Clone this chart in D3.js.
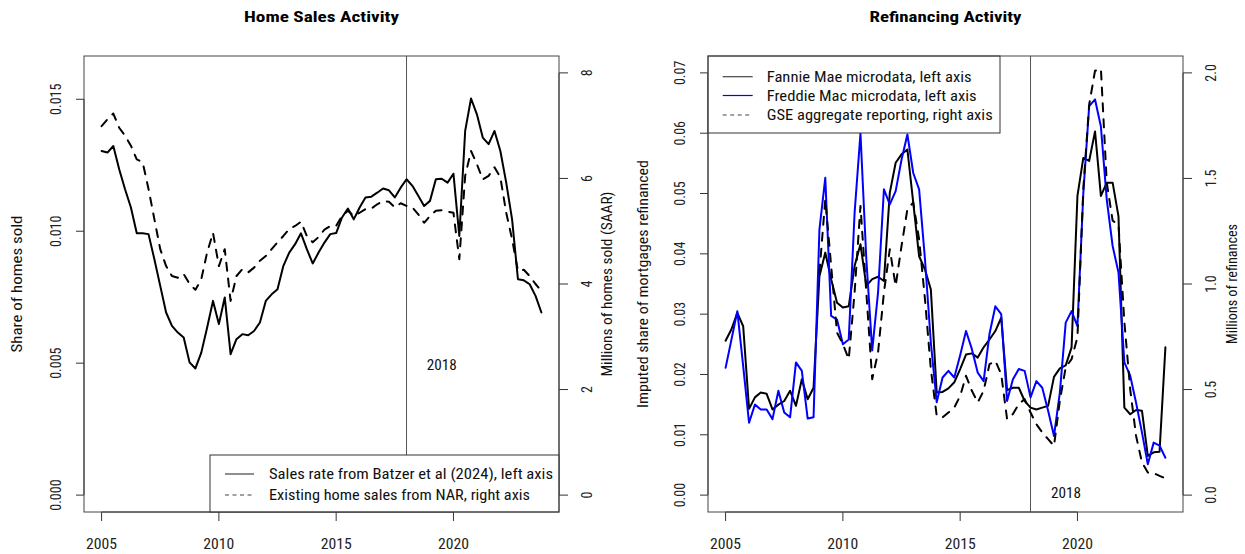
<!DOCTYPE html>
<html>
<head>
<meta charset="utf-8">
<script src="https://cdn.jsdelivr.net/npm/d3@7"></script>
<style>
  body { margin: 0; background: #fff; }
  svg { display: block; }
</style>
</head>
<body>
<svg id="chart" width="1245" height="554"></svg>
<script>
// Quarterly observations, 2005Q1 to 2023Q4 (decimal years)
const quarters = [
  2005.00, 2005.25, 2005.50, 2005.75, 2006.00, 2006.25, 2006.50, 2006.75,
  2007.00, 2007.25, 2007.50, 2007.75, 2008.00, 2008.25, 2008.50, 2008.75,
  2009.00, 2009.25, 2009.50, 2009.75, 2010.00, 2010.25, 2010.50, 2010.75,
  2011.00, 2011.25, 2011.50, 2011.75, 2012.00, 2012.25, 2012.50, 2012.75,
  2013.00, 2013.25, 2013.50, 2013.75, 2014.00, 2014.25, 2014.50, 2014.75,
  2015.00, 2015.25, 2015.50, 2015.75, 2016.00, 2016.25, 2016.50, 2016.75,
  2017.00, 2017.25, 2017.50, 2017.75, 2018.00, 2018.25, 2018.50, 2018.75,
  2019.00, 2019.25, 2019.50, 2019.75, 2020.00, 2020.25, 2020.50, 2020.75,
  2021.00, 2021.25, 2021.50, 2021.75, 2022.00, 2022.25, 2022.50, 2022.75,
  2023.00, 2023.25, 2023.50, 2023.75
];

// Home sales: share of homes sold (left axis)
const salesRate = [
  0.01304, 0.01298, 0.01323, 0.01235, 0.01159, 0.01090, 0.00992, 0.00992,
  0.00989, 0.00894, 0.00793, 0.00692, 0.00641, 0.00616, 0.00597, 0.00503,
  0.00480, 0.00540, 0.00635, 0.00736, 0.00648, 0.00749, 0.00534, 0.00591,
  0.00610, 0.00606, 0.00622, 0.00654, 0.00736, 0.00761, 0.00780, 0.00869,
  0.00919, 0.00951, 0.00992, 0.00932, 0.00878, 0.00919, 0.00957, 0.00989,
  0.00993, 0.01052, 0.01086, 0.01045, 0.01090, 0.01128, 0.01131, 0.01146,
  0.01162, 0.01155, 0.01128, 0.01165, 0.01197, 0.01172, 0.01134, 0.01096,
  0.01115, 0.01197, 0.01199, 0.01184, 0.01218, 0.00982, 0.01380, 0.01503,
  0.01443, 0.01355, 0.01330, 0.01380, 0.01304, 0.01184, 0.01045, 0.00818,
  0.00814, 0.00799, 0.00755, 0.00692
];

// Existing home sales from NAR, millions SAAR (right axis)
const narSales = [
  6.99, 7.12, 7.23, 6.96, 6.81, 6.62, 6.36, 6.31,
  5.80, 5.23, 4.66, 4.34, 4.15, 4.12, 4.19, 4.00,
  3.89, 4.09, 4.60, 4.97, 4.34, 4.66, 3.68, 4.15,
  4.28, 4.22, 4.31, 4.44, 4.53, 4.66, 4.79, 4.91,
  5.04, 5.10, 5.18, 4.91, 4.79, 4.89, 5.03, 5.10,
  5.10, 5.29, 5.39, 5.29, 5.35, 5.42, 5.43, 5.51,
  5.57, 5.56, 5.45, 5.53, 5.48, 5.45, 5.32, 5.16,
  5.29, 5.39, 5.40, 5.37, 5.35, 4.47, 6.05, 6.52,
  6.27, 5.98, 6.05, 6.21, 6.02, 5.35, 4.85, 4.25,
  4.27, 4.15, 4.00, 3.87
];

// Refinancing: imputed share of mortgages refinanced (left axis)
const fannieRefi = [
  0.0256, 0.0275, 0.0302, 0.0280, 0.0143, 0.0162, 0.0170, 0.0168,
  0.0142, 0.0150, 0.0156, 0.0173, 0.0148, 0.0192, 0.0159, 0.0178,
  0.0363, 0.0402, 0.0358, 0.0319, 0.0311, 0.0313, 0.0380, 0.0416,
  0.0347, 0.0358, 0.0362, 0.0355, 0.0501, 0.0551, 0.0565, 0.0573,
  0.0485, 0.0396, 0.0374, 0.0341, 0.0170, 0.0171, 0.0177, 0.0187,
  0.0209, 0.0233, 0.0235, 0.0228, 0.0245, 0.0258, 0.0272, 0.0294,
  0.0174, 0.0178, 0.0178, 0.0156, 0.0145, 0.0142, 0.0145, 0.0148,
  0.0196, 0.0210, 0.0215, 0.0245, 0.0496, 0.0559, 0.0554, 0.0603,
  0.0496, 0.0518, 0.0518, 0.0462, 0.0145, 0.0134, 0.0141, 0.0140,
  0.0065, 0.0071, 0.0072, 0.0245
];

const freddieRefi = [
  0.0211, 0.0258, 0.0305, 0.0214, 0.0120, 0.0150, 0.0142, 0.0142,
  0.0126, 0.0173, 0.0137, 0.0129, 0.0220, 0.0206, 0.0127, 0.0129,
  0.0440, 0.0526, 0.0297, 0.0291, 0.0250, 0.0258, 0.0468, 0.0600,
  0.0391, 0.0240, 0.0336, 0.0507, 0.0482, 0.0504, 0.0556, 0.0598,
  0.0534, 0.0507, 0.0391, 0.0253, 0.0154, 0.0195, 0.0206, 0.0195,
  0.0232, 0.0272, 0.0242, 0.0203, 0.0189, 0.0267, 0.0313, 0.0300,
  0.0156, 0.0192, 0.0209, 0.0206, 0.0162, 0.0189, 0.0178, 0.0140,
  0.0098, 0.0170, 0.0286, 0.0305, 0.0280, 0.0500, 0.0645, 0.0656,
  0.0611, 0.0490, 0.0413, 0.0369, 0.0220, 0.0198, 0.0153, 0.0104,
  0.0051, 0.0087, 0.0082, 0.0062
];

// GSE aggregate reporting, millions of refinances (right axis); starts 2009Q1
const gseRefi = [
  null, null, null, null, null, null, null, null,
  null, null, null, null, null, null, null, null,
  1.054, 1.401, 1.086, 0.770, 0.715, 0.644, 0.960, 1.370,
  0.960, 0.549, 0.676, 0.960, 1.165, 0.991, 1.180, 1.354,
  1.386, 1.212, 0.928, 0.597, 0.376, 0.368, 0.391, 0.415,
  0.470, 0.565, 0.494, 0.439, 0.494, 0.620, 0.636, 0.573,
  0.360, 0.384, 0.431, 0.455, 0.391, 0.336, 0.297, 0.265,
  0.233, 0.447, 0.605, 0.644, 0.747, 1.450, 1.850, 2.010,
  2.020, 1.480, 1.300, 1.280, 0.820, 0.500, 0.280, 0.155,
  0.107, 0.104, 0.091, 0.079
];

// Axis ticks and labels
const yearTicks = [2005, 2010, 2015, 2020];
const salesTicks = [0, 0.005, 0.010, 0.015];
const salesTickLabels = ["0.000", "0.005", "0.010", "0.015"];
const narTicks = [0, 2, 4, 6, 8];
const narTickLabels = ["0", "2", "4", "6", "8"];
const refiTicks = [0, 0.01, 0.02, 0.03, 0.04, 0.05, 0.06, 0.07];
const refiTickLabels = ["0.00", "0.01", "0.02", "0.03", "0.04", "0.05", "0.06", "0.07"];
const gseTicks = [0, 0.5, 1.0, 1.5, 2.0];
const gseTickLabels = ["0.0", "0.5", "1.0", "1.5", "2.0"];
const markerYear = 2018;

// Axis limits (R-style 4% padding applied below)
const xLimits = [2005, 2023.75];
const salesLimits = [0, 0.016];
const narLimits = [0, 8];
const refiLimits = [0, 0.07];
const gseLimits = [0, 2];

const pad = ([a, b]) => { const d = (b - a) * 0.04; return [a - d, b + d]; };

const FONT = "'Roboto Condensed','Liberation Sans Narrow',Roboto,sans-serif";
const svg = d3.select("#chart");

function drawPanel(cfg) {
  const { left, right, top, bottom } = cfg;
  const g = svg.append("g");
  const x = d3.scaleLinear().domain(pad(xLimits)).range([left, right]);
  const yL = d3.scaleLinear().domain(pad(cfg.leftLimits)).range([bottom, top]);
  const yR = d3.scaleLinear().domain(pad(cfg.rightLimits)).range([bottom, top]);

  // title
  g.append("text")
    .attr("x", (left + right) / 2).attr("y", 22)
    .attr("text-anchor", "middle")
    .attr("font-family", FONT).attr("font-weight", "bold").attr("font-size", 15)
    .attr("textLength", cfg.titleWidth).attr("lengthAdjust", "spacingAndGlyphs")
    .text(cfg.title);

  // bottom axis
  const xa = g.append("g");
  xa.append("line")
    .attr("x1", x(yearTicks[0])).attr("x2", x(yearTicks[yearTicks.length - 1]))
    .attr("y1", bottom).attr("y2", bottom).attr("stroke", "#333");
  yearTicks.forEach(t => {
    xa.append("line").attr("x1", x(t)).attr("x2", x(t))
      .attr("y1", bottom).attr("y2", bottom + 9).attr("stroke", "#333");
    xa.append("text").attr("x", x(t)).attr("y", 549)
      .attr("text-anchor", "middle").attr("font-family", FONT).attr("font-size", 15)
      .attr("textLength", 31).attr("lengthAdjust", "spacingAndGlyphs")
      .attr("fill", "#222").text(t);
  });

  // left axis
  const la = g.append("g");
  la.append("line").attr("x1", left).attr("x2", left)
    .attr("y1", yL(cfg.leftTicks[0])).attr("y2", yL(cfg.leftTicks[cfg.leftTicks.length - 1]))
    .attr("stroke", "#333");
  cfg.leftTicks.forEach((t, i) => {
    la.append("line").attr("x1", left - 8).attr("x2", left)
      .attr("y1", yL(t)).attr("y2", yL(t)).attr("stroke", "#333");
    la.append("text")
      .attr("transform", `translate(${left - 28},${yL(t)}) rotate(-90)`)
      .attr("text-anchor", "middle").attr("dy", "0.36em")
      .attr("font-family", FONT).attr("font-size", 14).attr("fill", "#222")
      .text(cfg.leftTickLabels[i]);
  });

  // right axis
  const ra = g.append("g");
  ra.append("line").attr("x1", right).attr("x2", right)
    .attr("y1", yR(cfg.rightTicks[0])).attr("y2", yR(cfg.rightTicks[cfg.rightTicks.length - 1]))
    .attr("stroke", "#333");
  cfg.rightTicks.forEach((t, i) => {
    ra.append("line").attr("x1", right).attr("x2", right + 9)
      .attr("y1", yR(t)).attr("y2", yR(t)).attr("stroke", "#333");
    ra.append("text")
      .attr("transform", `translate(${right + 28},${yR(t)}) rotate(-90)`)
      .attr("text-anchor", "middle").attr("dy", "0.36em")
      .attr("font-family", FONT).attr("font-size", 14).attr("fill", "#222")
      .text(cfg.rightTickLabels[i]);
  });

  // axis titles
  [[cfg.leftLabelX, cfg.leftLabel, cfg.leftLabelWidth],
   [cfg.rightLabelX, cfg.rightLabel, cfg.rightLabelWidth]].forEach(([lx, txt, w]) => {
    g.append("text")
      .attr("transform", `translate(${lx},${(top + bottom) / 2}) rotate(-90)`)
      .attr("text-anchor", "middle").attr("dy", "0.36em")
      .attr("font-family", FONT).attr("font-size", 14).attr("fill", "#111")
      .attr("textLength", w).attr("lengthAdjust", "spacingAndGlyphs")
      .text(txt);
  });

  // clip for the plotting region
  const clipId = "clip-" + cfg.id;
  svg.append("clipPath").attr("id", clipId)
    .append("rect").attr("x", left).attr("y", top)
    .attr("width", right - left).attr("height", bottom - top);
  const plot = g.append("g").attr("clip-path", `url(#${clipId})`);

  // vertical marker line at 2018
  plot.append("line")
    .attr("x1", x(markerYear)).attr("x2", x(markerYear))
    .attr("y1", top).attr("y2", bottom)
    .attr("stroke", "#555").attr("stroke-width", 1);
  g.append("text")
    .attr("x", cfg.markerLabel[0]).attr("y", cfg.markerLabel[1])
    .attr("text-anchor", "middle").attr("dy", "0.36em")
    .attr("font-family", FONT).attr("font-size", 14)
    .attr("textLength", 30).attr("lengthAdjust", "spacingAndGlyphs")
    .attr("fill", "#111").text(markerYear);

  // series
  cfg.series.forEach(s => {
    const y = s.axis === "left" ? yL : yR;
    const line = d3.line()
      .defined((d, i) => s.values[i] != null)
      .x((d, i) => x(quarters[i]))
      .y((d, i) => y(s.values[i]));
    plot.append("path")
      .datum(s.values)
      .attr("d", line)
      .attr("fill", "none")
      .attr("stroke", s.color)
      .attr("stroke-width", 2)
      .attr("stroke-linejoin", "round")
      .attr("stroke-linecap", "round")
      .attr("stroke-dasharray", s.dashed ? "8,8" : null);
  });

  // legend
  const L = cfg.legend;
  const lg = g.append("g");
  lg.append("rect")
    .attr("x", L.x0).attr("y", L.y0)
    .attr("width", L.x1 - L.x0).attr("height", L.y1 - L.y0)
    .attr("fill", "#fff").attr("stroke", "#333").attr("stroke-width", 1);
  cfg.series.forEach((s, i) => {
    const ly = L.rows[i];
    lg.append("line")
      .attr("x1", L.lineX[0]).attr("x2", L.lineX[1])
      .attr("y1", ly).attr("y2", ly)
      .attr("stroke", s.dashed ? "#444" : (s.color === "#000" ? "#444" : s.color))
      .attr("stroke-width", 1.2)
      .attr("stroke-dasharray", s.dashed ? "4,3.5" : null);
    lg.append("text")
      .attr("x", L.textX).attr("y", ly).attr("dy", "0.36em")
      .attr("font-family", FONT).attr("font-size", 15).attr("fill", "#111")
      .attr("textLength", s.labelWidth).attr("lengthAdjust", "spacingAndGlyphs")
      .text(s.label);
  });

  // plot box
  g.append("rect")
    .attr("x", left).attr("y", top)
    .attr("width", right - left).attr("height", bottom - top)
    .attr("fill", "none").attr("stroke", "#444").attr("stroke-width", 1);
}

drawPanel({
  id: "sales",
  left: 84, right: 559, top: 56, bottom: 512,
  title: "Home Sales Activity", titleWidth: 155,
  leftLimits: salesLimits, rightLimits: narLimits,
  leftTicks: salesTicks, leftTickLabels: salesTickLabels,
  rightTicks: narTicks, rightTickLabels: narTickLabels,
  leftLabel: "Share of homes sold", leftLabelX: 17, leftLabelWidth: 137,
  rightLabel: "Millions of homes sold (SAAR)", rightLabelX: 607, rightLabelWidth: 185,
  markerLabel: [441.7, 365],
  series: [
    { values: salesRate, axis: "left", color: "#000", dashed: false,
      label: "Sales rate from Batzer et al (2024), left axis", labelWidth: 284 },
    { values: narSales, axis: "right", color: "#000", dashed: true,
      label: "Existing home sales from NAR, right axis", labelWidth: 261 }
  ],
  legend: { x0: 210, x1: 559, y0: 455, y1: 512, rows: [474, 495],
            lineX: [225, 254], textX: 269 }
});

drawPanel({
  id: "refi",
  left: 708, right: 1183, top: 56, bottom: 512,
  title: "Refinancing Activity", titleWidth: 152,
  leftLimits: refiLimits, rightLimits: gseLimits,
  leftTicks: refiTicks, leftTickLabels: refiTickLabels,
  rightTicks: gseTicks, rightTickLabels: gseTickLabels,
  leftLabel: "Imputed share of mortgages refinanced", leftLabelX: 643, leftLabelWidth: 248,
  rightLabel: "Millions of refinances", rightLabelX: 1232, rightLabelWidth: 120,
  markerLabel: [1066, 493],
  series: [
    { values: fannieRefi, axis: "left", color: "#000", dashed: false,
      label: "Fannie Mae microdata, left axis", labelWidth: 205 },
    { values: freddieRefi, axis: "left", color: "#0000ff", dashed: false,
      label: "Freddie Mac microdata, left axis", labelWidth: 210 },
    { values: gseRefi, axis: "right", color: "#000", dashed: true,
      label: "GSE aggregate reporting, right axis", labelWidth: 226 }
  ],
  legend: { x0: 708, x1: 1000, y0: 56, y1: 133, rows: [76.7, 95.5, 115],
            lineX: [722.7, 752.7], textX: 766.7 }
});
</script>
</body>
</html>
